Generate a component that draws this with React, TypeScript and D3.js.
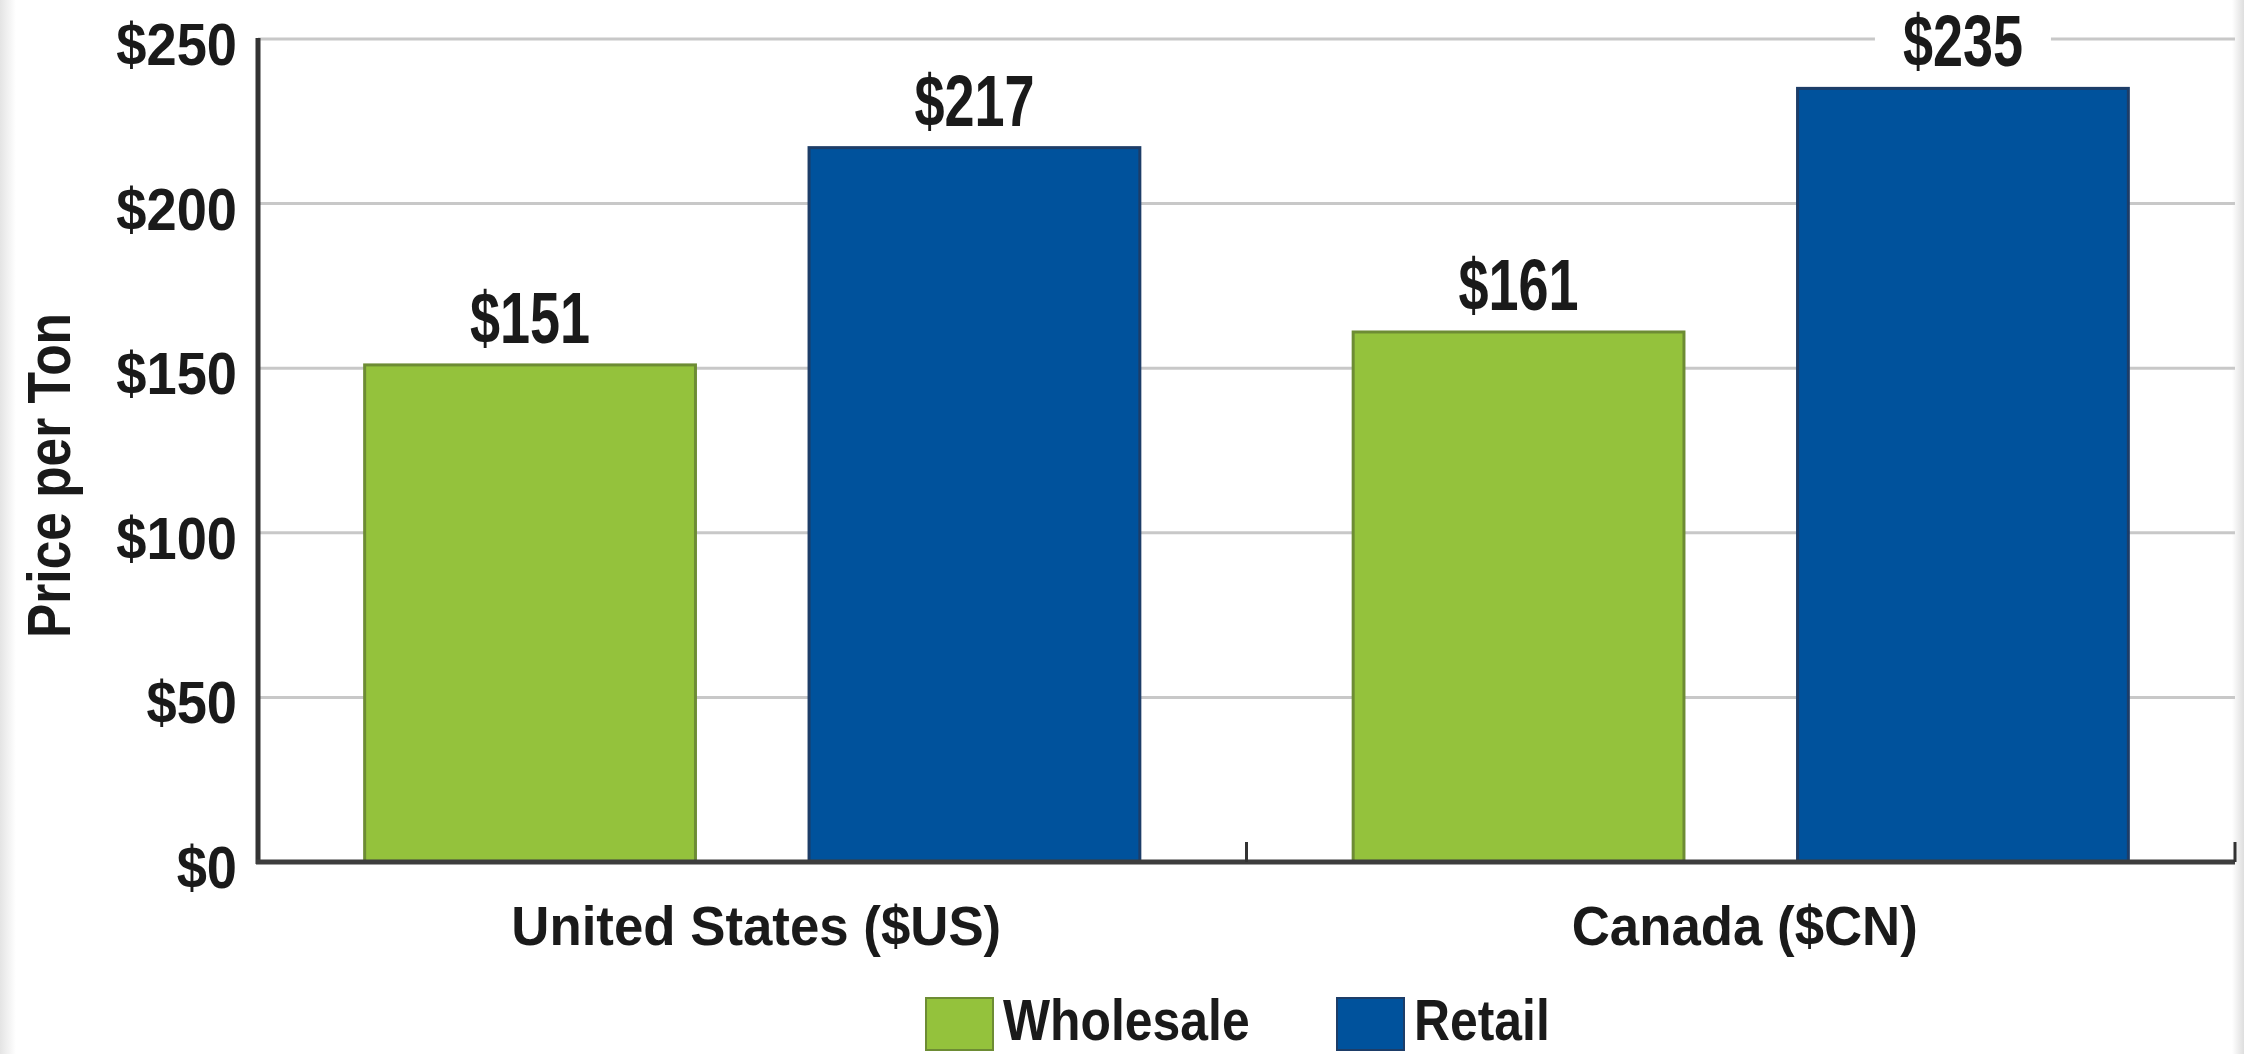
import * as d3 from 'd3';

// chart values
const countries = ['United States ($US)', 'Canada ($CN)'];
const seriesNames = ['Wholesale', 'Retail'];
const wholesale = [151, 161];
const retail = [217, 235];
const yTicks = [0, 50, 100, 150, 200, 250];

const W = 2244;
const H = 1054;
const colors = ['#94c23c', '#00529c'];
const edgeColors = ['#6d8c34', '#1d3d68'];
const FONT = "'Liberation Sans', Arial, Helvetica, sans-serif";

// squeezed bold text, the reference uses a condensed face
function Squeezed({ x, y, sx, size, anchor, children }: any) {
  return (
    <text
      transform={`translate(${x},${y}) scale(${sx},1)`}
      fontFamily={FONT}
      fontWeight="bold"
      fontSize={size}
      textAnchor={anchor}
      fill="#1a1a1a"
    >
      {children}
    </text>
  );
}

export default function App() {
  const left = 258, right = 2235, top = 39, bottom = 862;

  const y = d3.scaleLinear().domain([0, 250]).range([bottom, top]);
  const x0 = d3.scaleBand().domain(countries).range([left, right]).padding(0);
  const x1 = d3.scaleBand().domain(seriesNames).range([0, x0.bandwidth()])
    .paddingInner(0.2556).paddingOuter(0.24);

  const values = [wholesale, retail];
  const bars = countries.flatMap((c, ci) =>
    seriesNames.map((s, si) => ({ c, s, si, v: values[si][ci] })));

  const legendX = [926, 1337];

  return (
    <svg width={W} height={H} style={{ position: 'absolute', left: 0, top: 0, display: 'block' }}>
      <defs>
        <linearGradient id="edgeL" x1="0" x2="1">
          <stop offset="0" stopColor="#e4e4e4" />
          <stop offset="1" stopColor="#ffffff" />
        </linearGradient>
        <linearGradient id="edgeR" x1="0" x2="1">
          <stop offset="0" stopColor="#ffffff" />
          <stop offset="1" stopColor="#dedede" />
        </linearGradient>
      </defs>
      <rect width={W} height={H} fill="#fff" />
      <rect x={0} y={0} width={16} height={H} fill="url(#edgeL)" />
      <rect x={W - 12} y={0} width={12} height={H} fill="url(#edgeR)" />

      {/* gridlines */}
      {yTicks.filter(t => t > 0).map(t => (
        <line key={t} x1={left} x2={right} y1={y(t)} y2={y(t)} stroke="#c8c8c8" strokeWidth={3} />
      ))}

      {/* bars */}
      {bars.map(b => (
        <rect
          key={b.c + b.s}
          x={x0(b.c)! + x1(b.s)!}
          y={y(b.v)}
          width={x1.bandwidth()}
          height={y(0) - y(b.v)}
          fill={colors[b.si]}
          stroke={edgeColors[b.si]}
          strokeWidth={3}
        />
      ))}

      {/* value labels with white backing */}
      {bars.map(b => {
        const cx = x0(b.c)! + x1(b.s)! + x1.bandwidth() / 2;
        const by = y(b.v) - 22;
        return (
          <g key={'l' + b.c + b.s}>
            <rect x={cx - 88} y={by - 60} width={176} height={64} fill="#fff" />
            <Squeezed x={cx} y={by} sx={0.75} size={72} anchor="middle">{'$' + b.v}</Squeezed>
          </g>
        );
      })}

      {/* axes */}
      <line x1={left} x2={left} y1={top - 1} y2={bottom + 2} stroke="#333" strokeWidth={5} />
      <line x1={left - 2} x2={right} y1={bottom} y2={bottom} stroke="#3d3d3d" strokeWidth={5} />
      {countries.map(c => (
        <line key={'t' + c} x1={x0(c)! + x0.bandwidth()} x2={x0(c)! + x0.bandwidth()}
          y1={bottom} y2={bottom - 20} stroke="#333" strokeWidth={3} />
      ))}

      {yTicks.map(t => (
        <Squeezed key={'y' + t} x={237} y={y(t) + 26} sx={0.92} size={59} anchor="end">{'$' + t}</Squeezed>
      ))}

      {countries.map(c => (
        <Squeezed key={'x' + c} x={x0(c)! + x0.bandwidth() / 2 + 4} y={945} sx={0.96} size={55} anchor="middle">{c}</Squeezed>
      ))}

      <text
        transform={`translate(70,${(top + bottom) / 2 + 25}) rotate(-90) scale(0.83,1)`}
        fontFamily={FONT}
        fontWeight="bold"
        fontSize={62}
        textAnchor="middle"
        fill="#1a1a1a"
      >
        Price per Ton
      </text>

      {/* legend */}
      {seriesNames.map((s, i) => (
        <g key={'lg' + s}>
          <rect x={legendX[i]} y={998} width={67} height={52} fill={colors[i]} stroke={edgeColors[i]} strokeWidth={2} />
          <Squeezed x={legendX[i] + 77} y={1040} sx={0.86} size={58} anchor="start">{s}</Squeezed>
        </g>
      ))}
    </svg>
  );
}
